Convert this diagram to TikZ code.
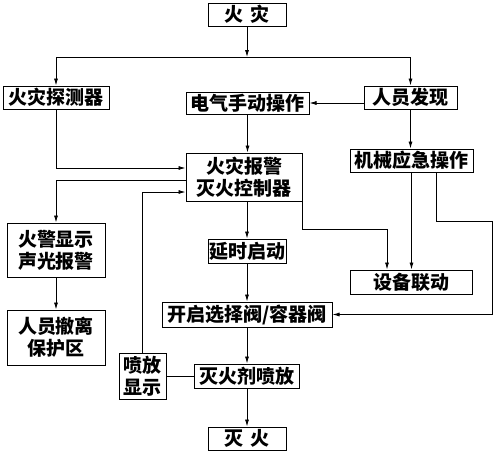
\documentclass[tikz,border=0pt]{standalone}
\usepackage{tikz}
\usepackage{fontspec}
\setmainfont{Noto Sans CJK SC}
\usetikzlibrary{arrows.meta,positioning}

\begin{document}
\begin{tikzpicture}[x=1pt,y=-1pt,
	box/.style={draw,line width=1pt,inner sep=1pt,align=center,font=\fontsize{19}{22}\selectfont\bfseries},
	flow/.style={line width=0.8pt,-{Latex[length=7pt,width=4pt]}}]
	\useasboundingbox (0,0) rectangle (496,455);
	\coordinate[] (c1) at (247,14.5);
	\coordinate[] (c2) at (56,97.5);
	\coordinate[] (c3) at (410.5,97.5);
	\coordinate[] (c4) at (247.5,103);
	\coordinate[] (c5) at (244,177);
	\coordinate[] (c6) at (411.5,160.5);
	\coordinate[] (c7) at (56,250);
	\coordinate[] (c8) at (247,251);
	\coordinate[] (c9) at (411,282);
	\coordinate[] (c10) at (56,337.5);
	\coordinate[] (c11) at (247,314.5);
	\coordinate[] (c12) at (142.5,376);
	\coordinate[] (c13) at (246.5,376);
	\coordinate[] (c14) at (247,438.5);
	\coordinate[] (split) at (247,57);
	\coordinate[] (rail) at (492,221);
	
	\node (fire) at (c1)[box,minimum width=78,minimum height=23]{火\hspace{0.4em}灾};
	\node (detect) at (c2)[box,minimum width=106,minimum height=23]{火灾探测器};
	\node (find) at (c3)[box,minimum width=93,minimum height=23]{人员发现};
	\node (manual) at (c4)[box,minimum width=123,minimum height=22]{电气手动操作};
	\node (ctrl) at (c5)[box,minimum width=116,minimum height=48]{火灾报警\\灭火控制器};
	\node (mech) at (c6)[box,minimum width=123,minimum height=23]{机械应急操作};
	\node (alarm) at (c7)[box,minimum width=98,minimum height=54]{火警显示\\声光报警};
	\node (delay) at (c8)[box,minimum width=78,minimum height=24]{延时启动};
	\node (link) at (c9)[box,minimum width=122,minimum height=24]{设备联动};
	\node (evac) at (c10)[box,minimum width=98,minimum height=55]{人员撤离\\保护区};
	\node (valve) at (c11)[box,minimum width=170,minimum height=25]{开启选择阀/容器阀};
	\node (show) at (c12)[box,minimum width=47,minimum height=46]{喷放\\显示};
	\node (spray) at (c13)[box,minimum width=105,minimum height=24]{灭火剂喷放};
	\node (out) at (c14)[box,minimum width=78,minimum height=23]{灭\hspace{0.4em}火};
	
	\draw[flow](fire)--(split);
	\draw[flow](split)-|(detect);
	\draw[flow](split)-|(find);
	\draw[flow](manual.east -| find.west)--(manual.east);
	\draw[flow](manual)--(manual |- ctrl.north);
	\draw[flow](find)--(find |- mech.north);
	\draw[flow](detect)|-([yshift=9pt]ctrl.west);
	\draw[flow]([yshift=-3pt]ctrl.west)-|(alarm);
	\draw[flow](alarm)--(evac);
	\draw[flow](show)|-([yshift=-15pt]ctrl.west);
	\draw[flow](ctrl.south -| delay)--(delay);
	\draw[flow](ctrl.south east)--++(0,28)-|([xshift=-24pt]link.north);
	\draw[flow](mech)--(mech |- link.north);
	\draw[flow]([xshift=24.5pt]mech.south)|-(rail)|-(valve.east);
	\draw[flow](delay)--(valve);
	\draw[flow](valve)--(valve |- spray.north);
	\draw[line width=0.8pt](show)--(spray);
	\draw[flow](spray.south -| out)--(out);
\end{tikzpicture}
\end{document}
